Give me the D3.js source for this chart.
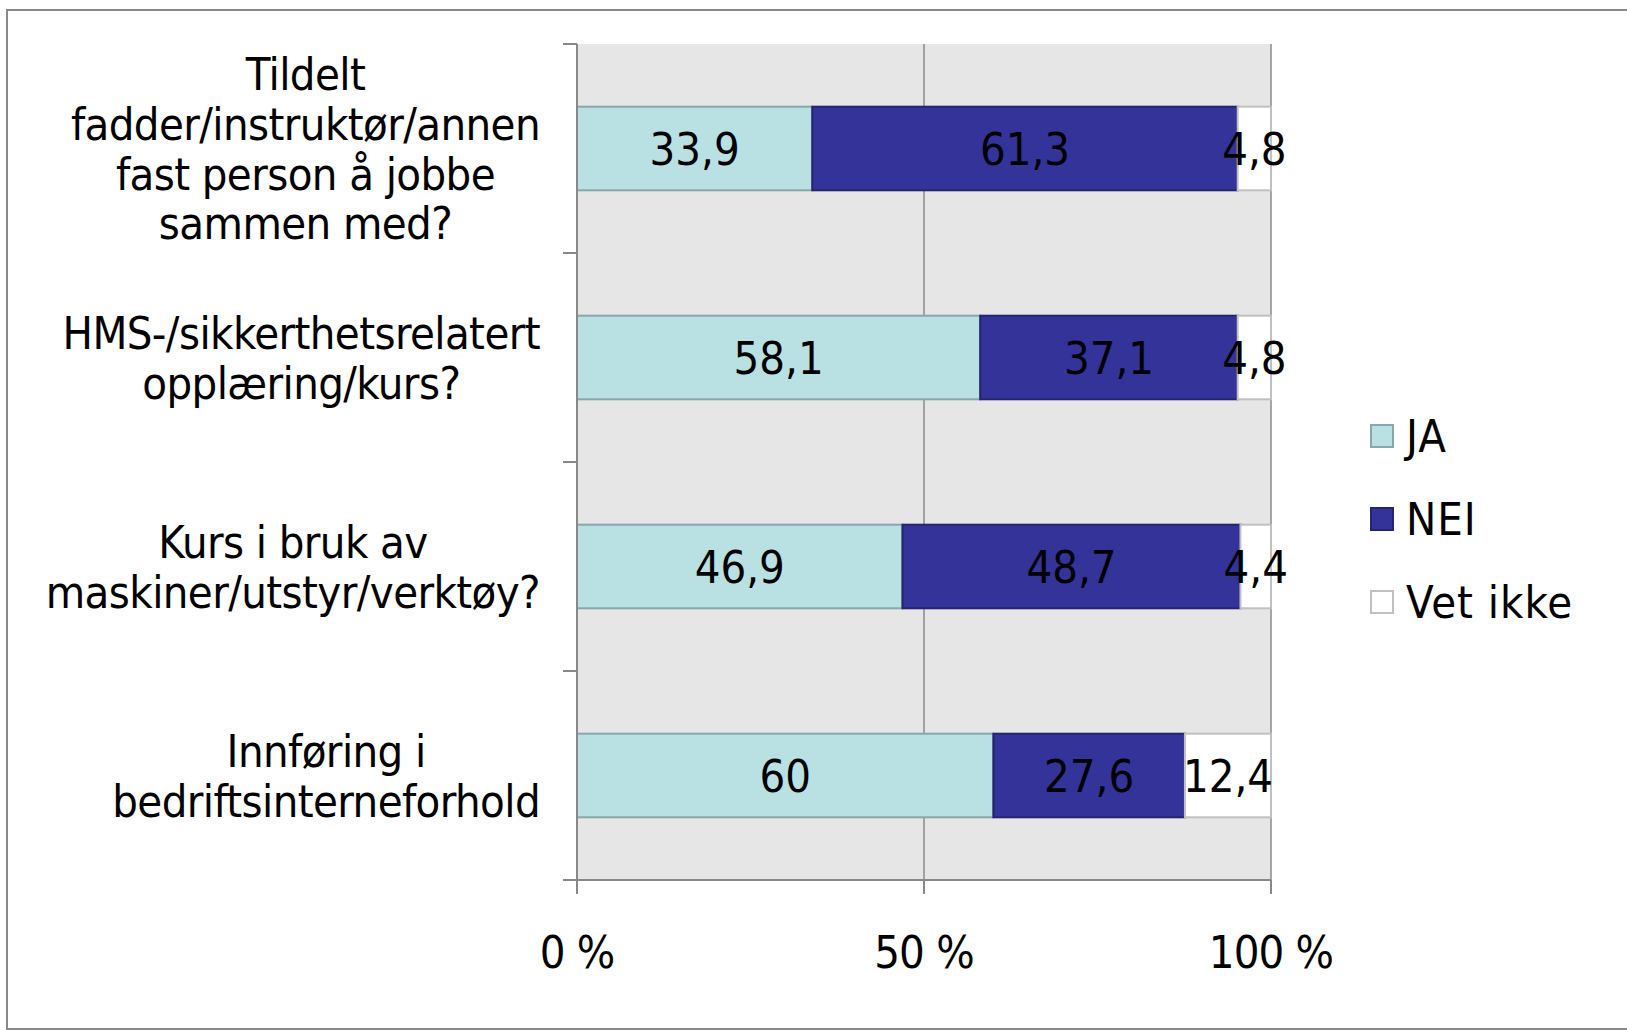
<!DOCTYPE html>
<html>
<head>
<meta charset="utf-8">
<script src="https://cdn.jsdelivr.net/npm/d3@7"></script>
<style>
body { margin:0; background:#fff; }
svg text { font-family:"DejaVu Sans Condensed","DejaVu Sans",sans-serif; fill:#000; }
</style>
</head>
<body>
<div id="figure"></div>
<script>

var categories = [
	["Tildelt","fadder/instruktør/annen","fast person å jobbe","sammen med?"],
	["HMS-/sikkerthetsrelatert","opplæring/kurs?"],
	["Kurs i bruk av","maskiner/utstyr/verktøy?"],
	["Innføring i","bedriftsinterneforhold"]
];
var seriesNames = ["JA","NEI","Vet ikke"];
var ja = [33.9, 58.1, 46.9, 60];
var nei = [61.3, 37.1, 48.7, 27.6];
var vetIkke = [4.8, 4.8, 4.4, 12.4];
var tickValues = [0, 50, 100];
var tickLabels = ["0 %", "50 %", "100 %"];

var fills = ["#b9e0e3", "#333399", "#ffffff"];
var strokes = ["#87a8aa", "#25256f", "#c0c0c0"];

var w = 1627, h = 1030;
var fs = 45;

// build rows for the stack
var rows = categories.map(function(c,i) {
	return {key:i, "JA":ja[i], "NEI":nei[i], "Vet ikke":vetIkke[i]};
});
var stacked = d3.stack().keys(seriesNames)(rows);

var svg = d3.select("#figure").append("svg")
	.attr("width", w).attr("height", h);

svg.append("rect")
	.attr("x",7).attr("y",10)
	.attr("width",w+20).attr("height",1019)
	.attr("fill","#fff")
	.attr("stroke","#898989").attr("stroke-width",2);

var x = d3.scaleLinear().domain([0,100]).range([577,1271]);
var y = d3.scaleBand().domain(d3.range(categories.length)).range([44,880])
	.paddingInner(0.6).paddingOuter(0.3);
var step = y.step();

// plot background
svg.append("rect")
	.attr("x",x(0)).attr("y",44)
	.attr("width",x(100)-x(0)).attr("height",880-44)
	.attr("fill","#e6e6e6");

// gridlines
svg.selectAll("line.grid")
	.data(tickValues.slice(1))
	.enter()
	.append("line")
	.attr("class","grid")
	.attr("x1",function(d){return x(d);}).attr("x2",function(d){return x(d);})
	.attr("y1",44).attr("y2",880)
	.attr("stroke","#8a8a8a").attr("stroke-width",1.5);

// bars
var layers = svg.selectAll("g.layer")
	.data(stacked)
	.enter()
	.append("g")
	.attr("class","layer");

layers.selectAll("rect")
	.data(function(d){ return d.map(function(p){ return {p:p, k:d.index}; }); })
	.enter()
	.append("rect")
	.attr("x",function(d){return x(d.p[0]);})
	.attr("y",function(d,i){return y(i);})
	.attr("width",function(d){return x(d.p[1])-x(d.p[0]);})
	.attr("height",y.bandwidth())
	.attr("fill",function(d){return fills[d.k];})
	.attr("stroke",function(d){return strokes[d.k];})
	.attr("stroke-width",2);

// value labels
layers.selectAll("text")
	.data(function(d){ return d.map(function(p){ return {p:p, k:d.index}; }); })
	.enter()
	.append("text")
	.attr("x",function(d){return (x(d.p[0])+x(d.p[1]))/2;})
	.attr("y",function(d,i){return y(i)+y.bandwidth()/2+fs*0.36;})
	.attr("text-anchor","middle")
	.attr("font-size",fs)
	.text(function(d){ return String(+(d.p[1]-d.p[0]).toFixed(1)).replace(".",","); });

// axes
svg.append("line")
	.attr("x1",x(0)).attr("x2",x(0)).attr("y1",44).attr("y2",880)
	.attr("stroke","#888").attr("stroke-width",2);
svg.append("line")
	.attr("x1",563).attr("x2",x(100)).attr("y1",880).attr("y2",880)
	.attr("stroke","#888").attr("stroke-width",2);

svg.selectAll("line.ytick")
	.data(d3.range(categories.length+1))
	.enter()
	.append("line")
	.attr("class","ytick")
	.attr("x1",563).attr("x2",x(0))
	.attr("y1",function(d){return 44+d*step;})
	.attr("y2",function(d){return 44+d*step;})
	.attr("stroke","#888").attr("stroke-width",2);

svg.selectAll("line.xtick")
	.data(tickValues)
	.enter()
	.append("line")
	.attr("class","xtick")
	.attr("x1",function(d){return x(d);}).attr("x2",function(d){return x(d);})
	.attr("y1",880).attr("y2",894)
	.attr("stroke","#888").attr("stroke-width",2);

svg.selectAll("text.xlab")
	.data(tickValues)
	.enter()
	.append("text")
	.attr("class","xlab")
	.attr("x",function(d){return x(d);})
	.attr("y",968)
	.attr("text-anchor","middle")
	.attr("font-size",fs)
	.attr("letter-spacing",-0.8)
	.text(function(d,i){return tickLabels[i];});

// category labels, each block right aligned, lines centered
var lineH = 49.8;
var rightEdge = 540;
categories.forEach(function(lines,i) {
	var g = svg.append("g");
	var cy = y(i)+y.bandwidth()/2;
	var t = g.selectAll("text")
		.data(lines)
		.enter()
		.append("text")
		.attr("font-size",fs)
		.attr("letter-spacing",-0.6)
		.attr("text-anchor","middle")
		.attr("y",function(d,j){ return cy+(j-(lines.length-1)/2)*lineH+fs*0.36; })
		.text(function(d){return d;});
	var maxW = 0;
	t.each(function(){ maxW = Math.max(maxW,this.getComputedTextLength()); });
	t.attr("x",rightEdge-maxW/2);
});

// legend
var leg = svg.selectAll("g.leg")
	.data(seriesNames)
	.enter()
	.append("g")
	.attr("class","leg")
	.attr("transform",function(d,i){ return "translate(1370,"+(436+i*83)+")"; });
leg.append("rect")
	.attr("x",1).attr("y",-11)
	.attr("width",22).attr("height",22)
	.attr("fill",function(d,i){return fills[i];})
	.attr("stroke",function(d,i){return strokes[i];})
	.attr("stroke-width",2);
leg.append("text")
	.attr("x",36)
	.attr("y",fs*0.36)
	.attr("font-size",fs)
	.attr("letter-spacing",1)
	.text(function(d){return d;});

</script>
</body>
</html>
